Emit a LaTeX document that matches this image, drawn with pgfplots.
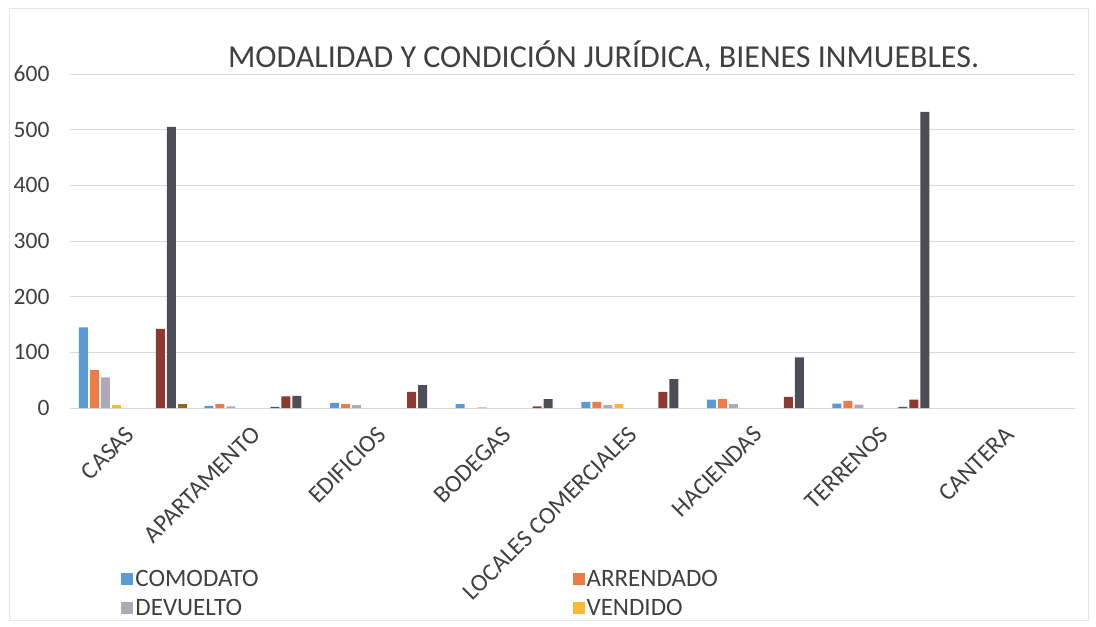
\documentclass[border=0pt]{standalone}
\usepackage{pgfplots}
\pgfplotsset{compat=1.18}
\usepackage{fontspec}
\setmainfont{Carlito}
\definecolor{cA}{HTML}{5B9BD5}
\definecolor{cB}{HTML}{EE7B45}
\definecolor{cC}{HTML}{ADAAB8}
\definecolor{cD}{HTML}{FBB832}
\definecolor{cG}{HTML}{255E91}
\definecolor{cH}{HTML}{8B3A32}
\definecolor{cI}{HTML}{4D4E58}
\definecolor{cJ}{HTML}{8C6A1E}
\definecolor{txt}{HTML}{404040}
\begin{document}
\begin{tikzpicture}[x=1pt,y=1pt]
\path[use as bounding box] (-70,-219) rectangle (1026,408);
\draw[gray!20, line width=0.6pt] (-61,-212) rectangle (1018,400);
\begin{axis}[
  at={(0,0)}, anchor=south west, scale only axis,
  width=1005pt, height=334pt,
  xmin=-0.5, xmax=7.5, ymin=0, ymax=600,
  ytick={0,100,...,600},
  xtick={0,...,7},
  xticklabels={CASAS,APARTAMENTO,EDIFICIOS,BODEGAS,LOCALES COMERCIALES,HACIENDAS,TERRENOS,CANTERA},
  /pgf/number format/assume math mode=true,
  x tick label style={font=\fontsize{24.5}{26}\selectfont, text=txt, rotate=45, anchor=east},
  xticklabel shift=20pt,
  y tick label style={font=\fontsize{23.5}{25}\selectfont, text=txt},
  yticklabel shift=17pt,
  major tick length=0pt,
  axis line style={draw=none},
  ymajorgrids, grid style={gray!30, line width=0.6pt},
  legend columns=2,
  legend style={at={(0.048,-0.473)}, anchor=north west, draw=none, fill=none,
    font=\fontsize{25}{27}\selectfont, text=txt, row sep=7pt,
    /tikz/every even column/.append style={column sep=312pt}},
  legend cell align=left,
  legend image code/.code={\fill[#1] (0pt,-6pt) rectangle (12pt,6pt);},
  clip=false,
]
\addplot[ybar, bar width=9pt, bar shift=-49.5pt, fill=cA, draw=none] coordinates {(0,145) (1,4) (2,9) (3,7) (4,11) (5,15) (6,8)};
\addplot[ybar, bar width=9pt, bar shift=-38.5pt, fill=cB, draw=none] coordinates {(0,68) (1,7) (2,7) (4,11) (5,16) (6,13)};
\addplot[ybar, bar width=9pt, bar shift=-27.5pt, fill=cC, draw=none] coordinates {(0,55) (1,3) (2,5) (3,1) (4,5) (5,7) (6,6)};
\addplot[ybar, bar width=9pt, bar shift=-16.5pt, fill=cD, draw=none] coordinates {(0,5) (4,7)};
\addplot[ybar, bar width=9pt, bar shift=16.5pt, fill=cG, draw=none] coordinates {(1,2) (6,2)};
\addplot[ybar, bar width=9pt, bar shift=27.5pt, fill=cH, draw=none] coordinates {(0,142) (1,21) (2,29) (3,3) (4,29) (5,20) (6,15)};
\addplot[ybar, bar width=9pt, bar shift=38.5pt, fill=cI, draw=none] coordinates {(0,505) (1,22) (2,41) (3,16) (4,52) (5,91) (6,532)};
\addplot[ybar, bar width=9pt, bar shift=49.5pt, fill=cJ, draw=none] coordinates {(0,7)};
\legend{COMODATO,ARRENDADO,DEVUELTO,VENDIDO}
\node[font=\fontsize{32}{34}\selectfont, text=txt] at (axis description cs:0.531,1.054) {MODALIDAD Y CONDICIÓN JURÍDICA, BIENES INMUEBLES.};
\end{axis}
\end{tikzpicture}
\end{document}
